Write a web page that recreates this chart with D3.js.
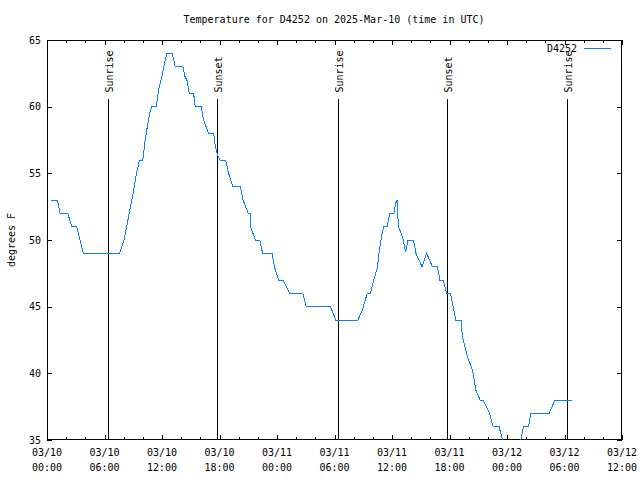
<!DOCTYPE html>
<html>
<head>
<meta charset="utf-8">
<script src="https://cdn.jsdelivr.net/npm/d3@7"></script>
<style>
  html, body { margin: 0; padding: 0; background: #fff; }
  svg { display: block; }
  text { font-family: "DejaVu Sans Mono", "Liberation Mono", monospace; font-size: 10px; fill: #000; }
</style>
</head>
<body>
<svg id="chart" width="640" height="480"></svg>
<script>
// ---- data (hours since 03/10 00:00 UTC, temperature in °F) ----
const hours = [0.39, 1.08, 1.36, 2.16, 2.6, 3.1, 3.45, 3.8, 7.56, 8.05, 8.47, 8.99, 9.34, 9.65, 10.0,
  10.24, 10.49, 10.75, 10.94, 11.39, 11.64, 11.99, 12.33, 12.51, 13.07, 13.38, 14.18, 14.42, 14.6,
  14.84, 15.3, 15.47, 16.1, 16.34, 16.86, 17.4, 17.56, 17.84, 18.05, 18.64, 18.95, 19.41, 20.17,
  20.45, 20.73, 20.98, 21.2, 21.29, 21.74, 22.2, 22.5, 23.48, 23.73, 24.18, 24.64, 25.33, 26.69,
  27.04, 29.58, 30.14, 32.44, 32.9, 33.42, 33.76, 34.1, 34.46, 34.73, 34.98, 35.15, 35.5, 35.75,
  36.2, 36.38, 36.55, 36.66, 36.9, 37.18, 37.42, 37.66, 38.23, 38.5, 39.13, 39.62, 40.21, 40.73,
  41.0, 41.36, 41.7, 42.1, 42.65, 43.2, 43.35, 43.87, 44.4, 44.74, 45.19, 45.5, 46.13, 46.55,
  47.17, 47.53, 47.9, 49.16, 49.44, 49.72, 50.24, 50.49, 52.4, 53.0, 54.74];
const temps = [53, 53, 52, 52, 51, 51, 50, 49, 49, 50, 51.6, 53.5, 55, 56, 56,
  57.5, 58.6, 59.6, 60, 60, 61.25, 62.25, 63.5, 64, 64, 63, 63, 62.2, 62,
  61, 61, 60, 60, 59, 58, 58, 57, 56.3, 56, 56, 55, 54, 54,
  53, 52.5, 52, 52, 50.9, 50, 50, 49, 49, 48, 47, 47, 46, 46,
  45, 45, 44, 44, 44.75, 46, 46, 47, 47.9, 49.5, 50.5, 51, 51, 52,
  52, 52.75, 53, 51, 50.6, 50, 49.1, 50, 50, 49, 48, 49, 48, 48,
  47, 47, 46, 46, 44, 44, 42.75, 41.25, 40.25, 38.75, 38, 38, 37.1, 36,
  36, 35, 34, 34, 35, 36, 36, 37, 37, 38, 38];

const sunEventHours = [6.4, 17.78, 30.4, 41.79, 54.31];
const sunEventLabels = ["Sunrise", "Sunset", "Sunrise", "Sunset", "Sunrise"];

const xTickHours = [0, 6, 12, 18, 24, 30, 36, 42, 48, 54, 60];
const xTickDates = ["03/10", "03/10", "03/10", "03/10", "03/11", "03/11", "03/11", "03/11", "03/12", "03/12", "03/12"];
const xTickTimes = ["00:00", "06:00", "12:00", "18:00", "00:00", "06:00", "12:00", "18:00", "00:00", "06:00", "12:00"];
const xMinorHours = [2, 4, 8, 10, 14, 16, 20, 22, 26, 28, 32, 34, 38, 40, 44, 46, 50, 52, 56, 58];
const yTicks = [35, 40, 45, 50, 55, 60, 65];

const titleText = "Temperature for D4252 on 2025-Mar-10 (time in UTC)";
const yLabelText = "degrees F";
const seriesName = "D4252";

// ---- layout ----
const L = 47, R = 622, T = 40, B = 440;
const svg = d3.select("#chart");
const x = d3.scaleLinear().domain([0, 60]).range([L, R]);
const y = d3.scaleLinear().domain([35, 65]).range([B, T]);

svg.append("rect").attr("width", 640).attr("height", 480).attr("fill", "#fff");

// clip
svg.append("clipPath").attr("id", "plotclip")
  .append("rect").attr("x", L).attr("y", T).attr("width", R - L).attr("height", B - T);

function styleAxis(g) {
  g.select(".domain").remove();
  g.selectAll("line").attr("stroke", "#000").attr("shape-rendering", "crispEdges");
  g.selectAll("text").remove();
}

// bottom major
const gBot = svg.append("g").attr("transform", `translate(0,${B})`)
  .call(d3.axisBottom(x).tickValues(xTickHours).tickSizeInner(-5).tickSizeOuter(0));
styleAxis(gBot);
svg.append("g").attr("transform", `translate(0,${B})`)
  .call(d3.axisBottom(x).tickValues(xMinorHours).tickSizeInner(-3).tickSizeOuter(0)).call(styleAxis);
// top mirror
svg.append("g").attr("transform", `translate(0,${T})`)
  .call(d3.axisTop(x).tickValues(xTickHours).tickSizeInner(-5).tickSizeOuter(0)).call(styleAxis);
svg.append("g").attr("transform", `translate(0,${T})`)
  .call(d3.axisTop(x).tickValues(xMinorHours).tickSizeInner(-3).tickSizeOuter(0)).call(styleAxis);
// left / right
svg.append("g").attr("transform", `translate(${L},0)`)
  .call(d3.axisLeft(y).tickValues(yTicks).tickSizeInner(-5).tickSizeOuter(0)).call(styleAxis);
svg.append("g").attr("transform", `translate(${R},0)`)
  .call(d3.axisRight(y).tickValues(yTicks).tickSizeInner(-5).tickSizeOuter(0)).call(styleAxis);

// x tick labels
const xl = svg.append("g");
xTickHours.forEach((h, i) => {
  const t = xl.append("text").attr("text-anchor", "middle").attr("x", x(h));
  t.append("tspan").attr("x", x(h)).attr("y", 456).text(xTickDates[i]);
  t.append("tspan").attr("x", x(h)).attr("y", 471).text(xTickTimes[i]);
});

// y tick labels
svg.append("g").selectAll("text").data(yTicks).join("text")
  .attr("x", 41).attr("y", d => y(d)).attr("dy", "0.35em")
  .attr("text-anchor", "end").text(d => d);

// border
svg.append("rect").attr("x", L + 0.5).attr("y", T + 0.5)
  .attr("width", R - L - 1).attr("height", B - T - 1)
  .attr("fill", "none").attr("stroke", "#000").attr("shape-rendering", "crispEdges");

// sunrise / sunset lines
sunEventHours.forEach((h, i) => {
  svg.append("line").attr("x1", x(h)).attr("x2", x(h))
    .attr("y1", B).attr("y2", y(35 + 30 * 0.852))
    .attr("stroke", "#000").attr("stroke-width", 1).attr("shape-rendering", "crispEdges");
  svg.append("text")
    .attr("transform", `translate(${x(h) + 4.5},92.5) rotate(-90)`)
    .attr("text-anchor", "start").text(sunEventLabels[i]);
});

// data line
const pts = hours.map((h, i) => [h, temps[i]]);
svg.append("path").datum(pts)
  .attr("clip-path", "url(#plotclip)")
  .attr("fill", "none").attr("stroke", "#0a80ff").attr("stroke-width", 1)
  .attr("shape-rendering", "crispEdges")
  .attr("d", d3.line().x(d => x(d[0])).y(d => y(d[1])));

// legend
svg.append("text").attr("x", 577).attr("y", 52).attr("text-anchor", "end").text(seriesName);
svg.append("line").attr("x1", 584).attr("x2", 611).attr("y1", 48.5).attr("y2", 48.5)
  .attr("stroke", "#0a80ff").attr("stroke-width", 1).attr("shape-rendering", "crispEdges");

// title
svg.append("text").attr("x", 334).attr("y", 23).attr("text-anchor", "middle").text(titleText);

// y label
svg.append("text").attr("transform", "translate(15,240) rotate(-90)")
  .attr("text-anchor", "middle").text(yLabelText);
</script>
</body>
</html>
